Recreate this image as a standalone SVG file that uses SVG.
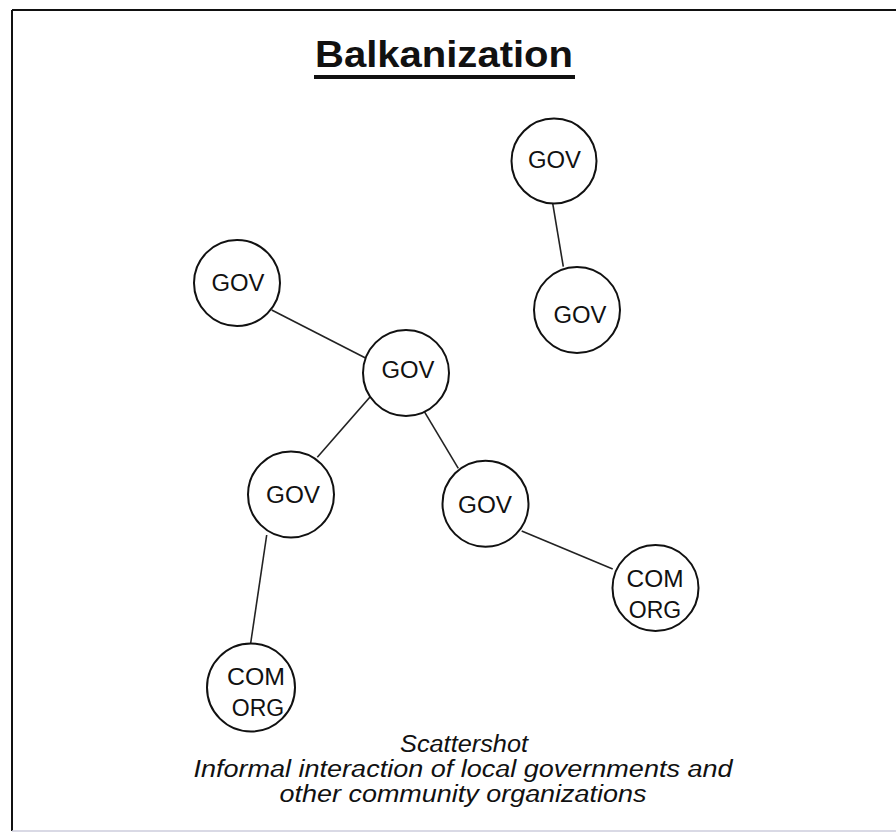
<svg xmlns="http://www.w3.org/2000/svg" width="896" height="835" viewBox="0 0 896 835">
<style>
.node circle{fill:#fff;stroke:#111;stroke-width:2}
.node text{font-family:"Liberation Sans",Arial,sans-serif;font-size:23px;fill:#111;text-anchor:middle}
#connectors line{stroke:#222;stroke-width:1.6}
.cap{font-family:"Liberation Sans",Arial,sans-serif;font-style:italic;font-size:23px;fill:#111;text-anchor:middle}
</style>
<rect width="896" height="835" fill="#fff"/>
<g id="frame" stroke="#111" fill="none">
<line x1="12" y1="10" x2="896" y2="10" stroke-width="2"/>
<line x1="12" y1="10" x2="12" y2="831" stroke-width="2"/>
<line x1="12" y1="831" x2="896" y2="831" stroke="#ccd" stroke-width="1.5"/>
</g>
<g id="title">
<text x="444" y="67" font-family="'Liberation Sans',Arial,sans-serif" font-weight="bold" font-size="37" text-anchor="middle" textLength="258" lengthAdjust="spacingAndGlyphs" fill="#111">Balkanization</text>
<line x1="314" y1="77" x2="575" y2="77" stroke="#111" stroke-width="4"/>
</g>
<g id="connectors">
<line x1="552.7" y1="203.3" x2="563.3" y2="266.7"/>
<line x1="271.7" y1="310" x2="366" y2="358.3"/>
<line x1="370" y1="397" x2="317.3" y2="457.3"/>
<line x1="424.2" y1="411.4" x2="458.3" y2="468.3"/>
<line x1="521.7" y1="531" x2="612.7" y2="569"/>
<line x1="266.7" y1="535" x2="250.7" y2="643"/>
</g>
<g id="gov-top" class="node"><circle cx="554" cy="161" r="42.5"/><text x="554.5" y="167.5" textLength="53" lengthAdjust="spacingAndGlyphs">GOV</text></g>
<g id="gov-top-lower" class="node"><circle cx="577" cy="310" r="43"/><text x="580" y="323" textLength="53" lengthAdjust="spacingAndGlyphs">GOV</text></g>
<g id="gov-left" class="node"><circle cx="237" cy="283" r="43"/><text x="238" y="291" textLength="53" lengthAdjust="spacingAndGlyphs">GOV</text></g>
<g id="gov-center" class="node"><circle cx="406" cy="373" r="43"/><text x="408" y="378" textLength="53" lengthAdjust="spacingAndGlyphs">GOV</text></g>
<g id="gov-lower-left" class="node"><circle cx="291" cy="494.5" r="43"/><text x="293" y="503" textLength="54" lengthAdjust="spacingAndGlyphs">GOV</text></g>
<g id="gov-right" class="node"><circle cx="485.5" cy="503.7" r="43"/><text x="485" y="513" textLength="54" lengthAdjust="spacingAndGlyphs">GOV</text></g>
<g id="com-org-right" class="node"><circle cx="655.5" cy="588" r="43"/><text x="655" y="587" textLength="57" lengthAdjust="spacingAndGlyphs">COM</text><text x="655" y="618">ORG</text></g>
<g id="com-org-left" class="node"><circle cx="251" cy="687.5" r="44"/><text x="256" y="685" textLength="58" lengthAdjust="spacingAndGlyphs">COM</text><text x="258" y="716">ORG</text></g>
<g id="caption">
<text class="cap" x="464" y="752" textLength="128" lengthAdjust="spacingAndGlyphs">Scattershot</text>
<text class="cap" x="463" y="777" textLength="539" lengthAdjust="spacingAndGlyphs">Informal interaction of local governments and</text>
<text class="cap" x="463" y="802" textLength="367" lengthAdjust="spacingAndGlyphs">other community organizations</text>
</g>
</svg>
